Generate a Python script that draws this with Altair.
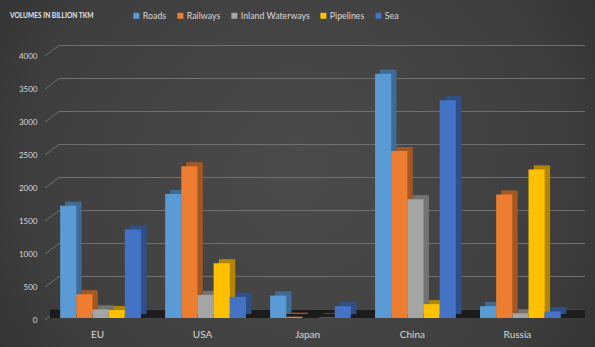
import altair as alt
import pandas as pd

countries = ["EU", "USA", "Japan", "China", "Russia"]
modes = ["Roads", "Railways", "Inland Waterways", "Pipelines", "Sea"]
roads = [1700, 1880, 340, 3700, 180]
railways = [360, 2300, 20, 2530, 1870]
inland = [130, 350, 0, 1800, 70]
pipelines = [120, 830, 5, 210, 2250]
sea = [1340, 320, 180, 3300, 100]
tick_values = [0, 500, 1000, 1500, 2000, 2500, 3000, 3500, 4000]
colors = ["#5B9BD5", "#ED7D31", "#A5A5A5", "#FFC000", "#4472C4"]
title_text = "VOLUMES IN BILLION TKM"

rows = []
for i, c in enumerate(countries):
    for m, vals in zip(modes, [roads, railways, inland, pipelines, sea]):
        rows.append({"country": c, "mode": m, "value": vals[i]})
df = pd.DataFrame(rows)
ticks_df = pd.DataFrame({"value": tick_values})
one = pd.DataFrame({"t": [title_text]})

W, H = 529, 264
FONT = "Lato"
LBL = "#d9d9d9"
DEPTH = 5

xscale = alt.Scale(paddingInner=0.23, paddingOuter=0.135)
xenc = alt.X(
    "country:N", sort=countries, scale=xscale,
    axis=alt.Axis(title=None, labelColor=LBL, labelFontSize=10, labelFont=FONT,
                  domain=False, ticks=False, labelPadding=11, labelOffset=-3,
                  labelAngle=0, grid=False, zindex=2),
)
xoff = alt.XOffset("mode:N", sort=modes, scale=alt.Scale(paddingInner=0, paddingOuter=0))
yscale = alt.Scale(domain=[0, 4000], nice=False)
yaxis = alt.Axis(title=None, values=tick_values, format="d", labelColor=LBL, labelFontSize=8,
                 labelFont=FONT, domain=False, ticks=False, grid=False,
                 labelPadding=9, labelOffset=2, zindex=2)
yenc = alt.Y("value:Q", scale=yscale, axis=yaxis)
color = alt.Color(
    "mode:N", sort=modes, scale=alt.Scale(domain=modes, range=colors),
    legend=alt.Legend(orient="none", legendX=86, legendY=-43, direction="horizontal",
                      title=None, symbolType="square", symbolSize=36,
                      symbolStrokeWidth=0, labelColor=LBL, labelFontSize=8.8,
                      labelFont=FONT, columnPadding=9, labelOffset=2, padding=0,
                      zindex=2),
)

bg = alt.Chart(one).mark_rect(
    color=alt.Gradient(gradient="radial",
                       stops=[alt.GradientStop(color="#4b4b4b", offset=0),
                              alt.GradientStop(color="#3e3e3e", offset=0.6),
                              alt.GradientStop(color="#282828", offset=1)],
                       x1=0.5, y1=0.5, r1=0, x2=0.5, y2=0.5, r2=0.75)
).encode(x=alt.value(-46), x2=alt.value(549), y=alt.value(-54), y2=alt.value(293))

grid = alt.Chart(ticks_df).mark_rule(color="#707070", strokeWidth=1, yOffset=-8.5).encode(
    y=yenc, x=alt.value(13), x2=alt.value(539))
diag = alt.Chart(ticks_df).mark_rule(color="#707070", strokeWidth=1, yOffset=2, y2Offset=-8.5).encode(
    y=yenc, y2="value:Q", x=alt.value(-1), x2=alt.value(13))

floor = alt.Chart(one).mark_rect(color="#1c1c1c").encode(
    x=alt.value(4), x2=alt.value(539), y=alt.value(255.5), y2=alt.value(264))

# back (extruded) copy of the bars, shifted right by DEPTH px and up by 4 px
xoff_side = alt.XOffset("mode:N", sort=modes,
                        scale=alt.Scale(paddingInner=0, paddingOuter=0,
                                        range=[DEPTH, 81.3 + DEPTH]))
side = alt.Chart(df).mark_bar(yOffset=-4, y2Offset=-4).encode(
    x=xenc, xOffset=xoff_side, y=yenc, color=color)
shade = alt.Chart(df).mark_bar(yOffset=-4, y2Offset=-4, color="black", opacity=0.3).encode(
    x=xenc, xOffset=xoff_side, y=yenc)
back = alt.layer(side, shade)
front = alt.Chart(df).mark_bar().encode(x=xenc, xOffset=xoff, y=yenc, color=color)

title = alt.Chart(one).mark_text(align="left", baseline="middle", fontSize=6.6,
                                 fontWeight="bold", color="#e6e6e6", font=FONT).encode(
    text="t:N", x=alt.value(-36), y=alt.value(-38))

chart = alt.layer(bg, grid, diag, floor, back, front, title).resolve_scale(
    xOffset="independent"
).properties(
    width=W, height=H,
    padding={"left": 46, "top": 54, "right": 20, "bottom": 29},
    autosize=alt.AutoSizeParams(type="none"),
    background="#333333",
).configure_view(stroke=None)

chart.save("out.html", embed_options={"renderer": "svg", "actions": False})
